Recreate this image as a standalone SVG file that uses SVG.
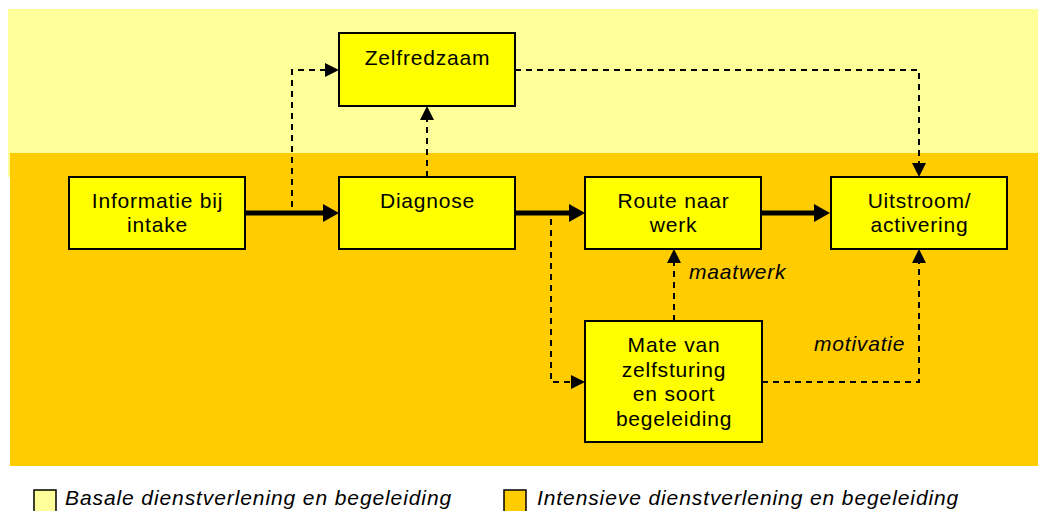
<svg xmlns="http://www.w3.org/2000/svg" width="1040" height="511" viewBox="0 0 1040 511">
  <style>
    .node rect { fill: #FFFF00; stroke: #000; stroke-width: 2; }
    .node text, .lbl { font-family: "Liberation Sans", Arial, sans-serif; font-size: 21px; letter-spacing: 0.8px; fill: #000; }
    .node text { text-anchor: middle; }
    .lbl { font-style: italic; }
    .legend text { font-family: "Liberation Sans", Arial, sans-serif; font-size: 21px; font-style: italic; letter-spacing: 0.9px; fill: #000; }
    .thick { fill: none; stroke: #000; stroke-width: 5; marker-end: url(#headBig); }
    .dash { fill: none; stroke: #000; stroke-width: 2; stroke-dasharray: 6 5; marker-end: url(#headSmall); }
  </style>
  <defs>
    <marker id="headBig" markerUnits="userSpaceOnUse" markerWidth="16" markerHeight="18" refX="0" refY="9" orient="auto">
      <path d="M0,0 L16,9 L0,18 Z" fill="#000"/>
    </marker>
    <marker id="headSmall" markerUnits="userSpaceOnUse" markerWidth="14" markerHeight="14" refX="0" refY="7" orient="auto">
      <path d="M0,0 L14,7 L0,14 Z" fill="#000"/>
    </marker>
  </defs>

  <g id="background">
    <rect x="8" y="9" width="1030" height="168" fill="#FFFF99"/>
    <rect x="10" y="153" width="1028" height="313" fill="#FFCC00"/>
  </g>

  <g id="connectors">
    <path class="thick" d="M245,213 L323,213"/>
    <path class="thick" d="M515,213 L569,213"/>
    <path class="thick" d="M761,213 L814,213"/>
    <path class="dash" d="M292,207 L292,70 L325,70"/>
    <path class="dash" d="M427,177 L427,120"/>
    <path class="dash" d="M515,70 L919,70 L919,163"/>
    <path class="dash" d="M551,219 L551,382 L571,382"/>
    <path class="dash" d="M674,321 L674,263"/>
    <path class="dash" d="M762,382 L919,382 L919,263"/>
    <text class="lbl" x="689" y="279">maatwerk</text>
    <text class="lbl" x="814" y="351">motivatie</text>
  </g>

  <g id="node-zelfredzaam" class="node">
    <rect x="339" y="33" width="176" height="73"/>
    <text x="427.5" y="65">Zelfredzaam</text>
  </g>
  <g id="node-informatie" class="node">
    <rect x="69" y="177" width="176" height="72"/>
    <text x="157.5" y="208">Informatie bij</text>
    <text x="157.5" y="232">intake</text>
  </g>
  <g id="node-diagnose" class="node">
    <rect x="339" y="177" width="176" height="72"/>
    <text x="427.5" y="208">Diagnose</text>
  </g>
  <g id="node-route" class="node">
    <rect x="585" y="177" width="176" height="72"/>
    <text x="673.5" y="208">Route naar</text>
    <text x="673.5" y="232">werk</text>
  </g>
  <g id="node-uitstroom" class="node">
    <rect x="831" y="177" width="176" height="72"/>
    <text x="919.5" y="208">Uitstroom/</text>
    <text x="919.5" y="232">activering</text>
  </g>
  <g id="node-mate" class="node">
    <rect x="585" y="321" width="177" height="121"/>
    <text x="674" y="352">Mate van</text>
    <text x="674" y="377">zelfsturing</text>
    <text x="674" y="401">en soort</text>
    <text x="674" y="426">begeleiding</text>
  </g>

  <g id="legend" class="legend">
    <rect x="34" y="490" width="22" height="26" fill="#FFFF99" stroke="#000" stroke-width="1.5"/>
    <text x="65" y="505">Basale dienstverlening en begeleiding</text>
    <rect x="504" y="490" width="22" height="26" fill="#FFCC00" stroke="#000" stroke-width="1.5"/>
    <text x="537" y="505">Intensieve dienstverlening en begeleiding</text>
  </g>
</svg>
